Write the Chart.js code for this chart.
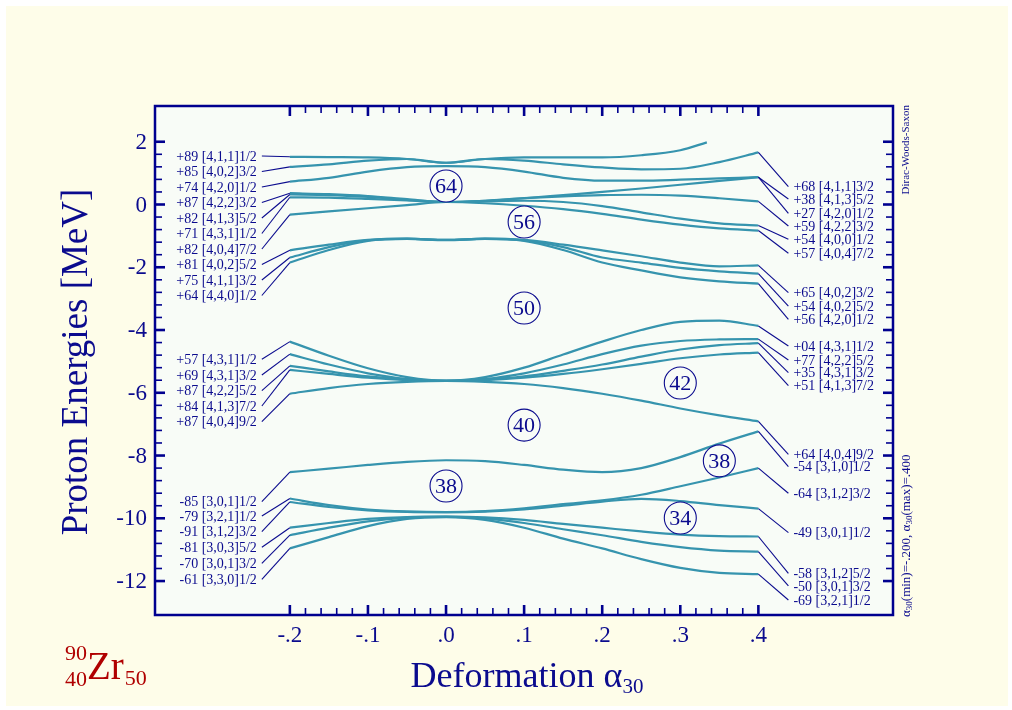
<!DOCTYPE html>
<html>
<head>
<meta charset="utf-8">
<title>Zr-90 proton levels vs alpha30</title>
<script src="https://cdn.jsdelivr.net/npm/chart.js@4.4.1/dist/chart.umd.min.js"></script>
<style>
  html, body { margin: 0; padding: 0; background: #ffffff; }
  #wrap { width: 1012px; height: 710px; }
</style>
</head>
<body>
<div id="wrap"><canvas id="chart" width="1012" height="710"></canvas></div>
<script>
// deformation grid (alpha30)
const alpha = [-0.2, -0.15, -0.1, -0.05, 0, 0.05, 0.1, 0.15, 0.2, 0.25, 0.3, 0.35, 0.4];
const alphaCut = [-0.2, -0.15, -0.1, -0.05, 0, 0.05, 0.1, 0.15, 0.2, 0.25, 0.3, 0.334];

// N=4 levels above the 50 gap (MeV)
const t1 = [1.52, 1.51, 1.50, 1.45, 1.33, 1.45, 1.50, 1.50, 1.50, 1.57, 1.73, 1.98];
const t2 = [1.20, 1.28, 1.40, 1.45, 1.33, 1.45, 1.40, 1.28, 1.18, 1.12, 1.14, 1.35, 1.66];
const t3 = [0.73, 0.85, 1.05, 1.19, 1.22, 1.19, 1.05, 0.85, 0.76, 0.76, 0.79, 0.83, 0.87];
const t4 = [0.36, 0.33, 0.27, 0.17, 0.08, 0.12, 0.20, 0.30, 0.40, 0.51, 0.63, 0.75, 0.87];
const t5 = [0.32, 0.30, 0.24, 0.15, 0.08, 0.12, 0.20, 0.26, 0.30, 0.31, 0.28, 0.20, 0.10];
const t6 = [0.23, 0.22, 0.18, 0.13, 0.08, 0.10, 0.12, 0.08, -0.05, -0.25, -0.45, -0.60, -0.67];
const t7 = [-0.32, -0.22, -0.12, -0.02, 0.08, 0.04, -0.04, -0.15, -0.30, -0.48, -0.64, -0.76, -0.83];
const t8 = [-1.46, -1.28, -1.13, -1.09, -1.13, -1.09, -1.13, -1.28, -1.46, -1.65, -1.85, -1.97, -1.94];
const t9 = [-1.69, -1.36, -1.14, -1.09, -1.13, -1.09, -1.14, -1.36, -1.69, -1.85, -2.02, -2.13, -2.20];
const t10 = [-1.85, -1.45, -1.16, -1.10, -1.14, -1.10, -1.16, -1.45, -1.85, -2.10, -2.32, -2.45, -2.52];

// g9/2 block between 40 and 50
const m1 = [-4.37, -4.82, -5.22, -5.50, -5.62, -5.50, -5.20, -4.78, -4.37, -4.00, -3.74, -3.70, -3.87];
const m2 = [-4.77, -5.10, -5.38, -5.56, -5.62, -5.56, -5.38, -5.10, -4.77, -4.50, -4.35, -4.30, -4.29];
const m3 = [-5.14, -5.32, -5.48, -5.58, -5.62, -5.58, -5.48, -5.30, -5.10, -4.85, -4.62, -4.48, -4.42];
const m4 = [-5.27, -5.40, -5.52, -5.60, -5.62, -5.60, -5.52, -5.40, -5.25, -5.08, -4.90, -4.78, -4.72];
const m5 = [-6.03, -5.85, -5.72, -5.65, -5.62, -5.65, -5.72, -5.85, -6.03, -6.25, -6.50, -6.72, -6.91];

// N=3 levels
const b1 = [-8.53, -8.42, -8.30, -8.20, -8.15, -8.18, -8.30, -8.45, -8.53, -8.40, -8.05, -7.62, -7.23];
const b2 = [-9.37, -9.58, -9.72, -9.78, -9.80, -9.77, -9.68, -9.55, -9.43, -9.25, -8.98, -8.70, -8.40];
const b3 = [-9.48, -9.64, -9.75, -9.80, -9.81, -9.79, -9.72, -9.60, -9.47, -9.38, -9.45, -9.58, -9.69];
const b4 = [-10.30, -10.15, -10.02, -9.96, -9.95, -9.97, -10.05, -10.18, -10.30, -10.42, -10.52, -10.57, -10.58];
const b5 = [-10.54, -10.30, -10.10, -9.98, -9.95, -10.00, -10.15, -10.35, -10.54, -10.75, -10.92, -11.03, -11.06];
const b6 = [-10.96, -10.60, -10.25, -10.02, -9.96, -10.05, -10.30, -10.65, -10.96, -11.30, -11.58, -11.74, -11.78];

const levels = [t1, t2, t3, t4, t5, t6, t7, t8, t9, t10, m1, m2, m3, m4, m5, b1, b2, b3, b4, b5, b6];
const levelGrid = [alphaCut, alpha, alpha, alpha, alpha, alpha, alpha, alpha, alpha, alpha,
  alpha, alpha, alpha, alpha, alpha, alpha, alpha, alpha, alpha, alpha, alpha];

// level labels at alpha30 = -.2 and .4
const leftLabels = ['+89 [4,1,1]1/2', '+85 [4,0,2]3/2', '+74 [4,2,0]1/2', '+87 [4,2,2]3/2', '+82 [4,1,3]5/2',
  '+71 [4,3,1]1/2', '+82 [4,0,4]7/2', '+81 [4,0,2]5/2', '+75 [4,1,1]3/2', '+64 [4,4,0]1/2',
  '+57 [4,3,1]1/2', '+69 [4,3,1]3/2', '+87 [4,2,2]5/2', '+84 [4,1,3]7/2', '+87 [4,0,4]9/2',
  '-85 [3,0,1]1/2', '-79 [3,2,1]1/2', '-91 [3,1,2]3/2', '-81 [3,0,3]5/2', '-70 [3,0,1]3/2', '-61 [3,3,0]1/2'];
const rightLabels = [null, '+68 [4,1,1]3/2', '+27 [4,2,0]1/2', '+38 [4,1,3]5/2', '+59 [4,2,2]3/2',
  '+54 [4,0,0]1/2', '+57 [4,0,4]7/2', '+65 [4,0,2]3/2', '+54 [4,0,2]5/2', '+56 [4,2,0]1/2',
  '+04 [4,3,1]1/2', '+77 [4,2,2]5/2', '+35 [4,3,1]3/2', '+51 [4,1,3]7/2', '+64 [4,0,4]9/2',
  '-54 [3,1,0]1/2', '-64 [3,1,2]3/2', '-49 [3,0,1]1/2', '-58 [3,1,2]5/2', '-50 [3,0,1]3/2', '-69 [3,2,1]1/2'];

// label anchor heights (MeV), layout only
const leftLabelAt = [1.546, 1.052, 0.558, 0.064, -0.430, -0.924, -1.418, -1.912, -2.406, -2.900,
  -4.933, -5.433, -5.934, -6.421, -6.922,
  -9.471, -9.927, -10.427, -10.924, -11.434, -11.944];
const rightLabelAt = [null, 0.567, -0.280, 0.175, -0.685, -1.109, -1.555, -2.811, -3.235, -3.658,
  -4.509, -4.955, -5.360, -5.774, -7.960,
  -8.356, -9.203, -10.459, -11.753, -12.157, -12.604];

// shell gaps
const gapNumbers = ['64', '56', '50', '42', '40', '38', '38', '34'];
const gapAlpha = [0, 0.1, 0.1, 0.3, 0.1, 0, 0.35, 0.3];
const gapEnergy = [0.59, -0.56, -3.30, -5.69, -7.03, -8.97, -8.17, -9.99];

// axes
const yTicks = [2, 0, -2, -4, -6, -8, -10, -12];
const yTickLabels = ['2', '0', '-2', '-4', '-6', '-8', '-10', '-12'];
const xTicks = [-0.2, -0.1, 0, 0.1, 0.2, 0.3, 0.4];
const xTickLabels = ['-.2', '-.1', '.0', '.1', '.2', '.3', '.4'];

const SERIF = '"Liberation Serif", "Times New Roman", serif';
const CURVE = '#3694ae';
const INK = '#0b0b8e';
const FRAME = '#00008f';
const PAGE_BG = '#fefde9';
const PLOT_BG = '#f8fcf7';

const decor = {
  id: 'decor',
  beforeDraw(chart) {
    const { ctx, chartArea: a } = chart;
    ctx.save();
    ctx.fillStyle = '#ffffff';
    ctx.fillRect(0, 0, chart.width, chart.height);
    ctx.fillStyle = PAGE_BG;
    ctx.fillRect(6, 6, 1002, 700);
    ctx.fillStyle = PLOT_BG;
    ctx.fillRect(a.left, a.top, a.right - a.left, a.bottom - a.top);
    ctx.restore();
  },
  afterDatasetsDraw(chart) {
    const { ctx, chartArea: a } = chart;
    const xs = chart.scales.x, ys = chart.scales.y;
    const x0 = xs.getPixelForValue(-0.2), x1 = xs.getPixelForValue(0.4);
    ctx.save();

    // connectors + level labels
    ctx.strokeStyle = INK;
    ctx.lineWidth = 1.1;
    ctx.fillStyle = INK;
    ctx.font = '14px ' + SERIF;
    ctx.textBaseline = 'middle';
    levels.forEach((e, i) => {
      const yl = ys.getPixelForValue(leftLabelAt[i]);
      ctx.beginPath();
      ctx.moveTo(x0 - 28, yl);
      ctx.lineTo(x0, ys.getPixelForValue(e[0]));
      ctx.stroke();
      ctx.textAlign = 'right';
      ctx.fillText(leftLabels[i], x0 - 33, yl + 1);
      if (rightLabels[i]) {
        const yr = ys.getPixelForValue(rightLabelAt[i]);
        ctx.beginPath();
        ctx.moveTo(x1, ys.getPixelForValue(e[e.length - 1]));
        ctx.lineTo(x1 + 30, yr);
        ctx.stroke();
        ctx.textAlign = 'left';
        ctx.fillText(rightLabels[i], x1 + 35, yr + 1);
      }
    });

    // shell-gap circles
    ctx.font = '22px ' + SERIF;
    ctx.textAlign = 'center';
    gapNumbers.forEach((n, i) => {
      const cx = xs.getPixelForValue(gapAlpha[i]), cy = ys.getPixelForValue(gapEnergy[i]);
      ctx.beginPath();
      ctx.arc(cx, cy, 16, 0, Math.PI * 2);
      ctx.fillStyle = PLOT_BG;
      ctx.fill();
      ctx.lineWidth = 1.1;
      ctx.stroke();
      ctx.fillStyle = INK;
      ctx.fillText(n, cx, cy + 1);
    });

    // frame
    ctx.strokeStyle = FRAME;
    ctx.lineWidth = 2.5;
    ctx.strokeRect(a.left, a.top, a.right - a.left, a.bottom - a.top);

    // inward ticks
    const tick = (x, y, dx, dy, w) => {
      ctx.lineWidth = w;
      ctx.beginPath();
      ctx.moveTo(x, y);
      ctx.lineTo(x + dx, y + dy);
      ctx.stroke();
    };
    for (let k = 0; k < yTicks.length; k++) {
      const y = ys.getPixelForValue(yTicks[k]);
      tick(a.left, y, 10, 0, 2.6);
      tick(a.right, y, -10, 0, 2.6);
      if (k < yTicks.length - 1) {
        for (let s = 1; s < 5; s++) {
          const ym = ys.getPixelForValue(yTicks[k] + (yTicks[k + 1] - yTicks[k]) * s / 5);
          tick(a.left, ym, 7, 0, 1.6);
          tick(a.right, ym, -7, 0, 1.6);
        }
      }
    }
    for (let k = 0; k < xTicks.length; k++) {
      const x = xs.getPixelForValue(xTicks[k]);
      tick(x, a.top, 0, 10, 2.6);
      tick(x, a.bottom, 0, -10, 2.6);
      if (k < xTicks.length - 1) {
        for (let s = 1; s < 5; s++) {
          const xm = xs.getPixelForValue(xTicks[k] + (xTicks[k + 1] - xTicks[k]) * s / 5);
          tick(xm, a.top, 0, 7, 1.6);
          tick(xm, a.bottom, 0, -7, 1.6);
        }
      }
    }

    // tick labels
    ctx.fillStyle = INK;
    ctx.font = '23px ' + SERIF;
    ctx.textBaseline = 'middle';
    ctx.textAlign = 'right';
    yTicks.forEach((v, k) => ctx.fillText(yTickLabels[k], a.left - 8, ys.getPixelForValue(v) + 1));
    ctx.textAlign = 'center';
    xTicks.forEach((v, k) => ctx.fillText(xTickLabels[k], xs.getPixelForValue(v), a.bottom + 21));

    // axis titles
    ctx.save();
    ctx.translate(77, 362);
    ctx.rotate(-Math.PI / 2);
    ctx.font = '37px ' + SERIF;
    ctx.textAlign = 'center';
    ctx.fillText('Proton Energies [MeV]', 0, 0);
    ctx.restore();

    const pieces = (list, x, y) => {
      ctx.textAlign = 'left';
      ctx.textBaseline = 'alphabetic';
      list.forEach(([txt, size, dy]) => {
        ctx.font = size + 'px ' + SERIF;
        ctx.fillText(txt, x, y + dy);
        x += ctx.measureText(txt).width;
      });
      return x;
    };
    const widthOf = (list) => list.reduce((w, [txt, size]) => {
      ctx.font = size + 'px ' + SERIF;
      return w + ctx.measureText(txt).width;
    }, 0);

    const xTitle = [['Deformation α', 36, 0], ['30', 21, 6]];
    pieces(xTitle, 527 - widthOf(xTitle) / 2, 687);

    // nucleus
    ctx.fillStyle = '#b00000';
    pieces([['90', 22, 0]], 65, 660);
    pieces([['40', 22, 0]], 65, 686);
    const zx = pieces([['Zr', 39, 0]], 87, 679);
    pieces([['50', 22, 0]], zx + 1, 685);

    // side notes
    ctx.fillStyle = INK;
    ctx.save();
    ctx.translate(906, a.top - 1);
    ctx.rotate(-Math.PI / 2);
    ctx.font = '11px ' + SERIF;
    ctx.textAlign = 'right';
    ctx.textBaseline = 'middle';
    ctx.fillText('Dirac-Woods-Saxon', 0, 0);
    ctx.restore();

    ctx.save();
    ctx.translate(906, a.bottom + 2);
    ctx.rotate(-Math.PI / 2);
    const note = [['α', 13, 4], ['30', 9, 6], ['(min)=-.200, α', 13, 4], ['30', 9, 6], ['(max)=.400', 13, 4]];
    pieces(note, 0, 0);
    ctx.restore();

    ctx.restore();
  }
};

const datasets = levels.map((e, i) => ({
  data: levelGrid[i].map((a, j) => ({ x: a, y: e[j] })),
  borderColor: CURVE,
  borderWidth: 2.2,
  pointRadius: 0,
  fill: false,
  cubicInterpolationMode: 'monotone'
}));

new Chart(document.getElementById('chart').getContext('2d'), {
  type: 'line',
  data: { datasets },
  options: {
    responsive: false,
    maintainAspectRatio: false,
    animation: false,
    devicePixelRatio: 1,
    layout: { padding: { left: 155, right: 119, top: 106, bottom: 95 } },
    plugins: { legend: { display: false }, tooltip: { enabled: false } },
    scales: {
      x: { type: 'linear', min: -0.3727, max: 0.5724, display: false },
      y: { type: 'linear', min: -13.082, max: 3.139, display: false }
    }
  },
  plugins: [decor]
});
</script>
</body>
</html>
